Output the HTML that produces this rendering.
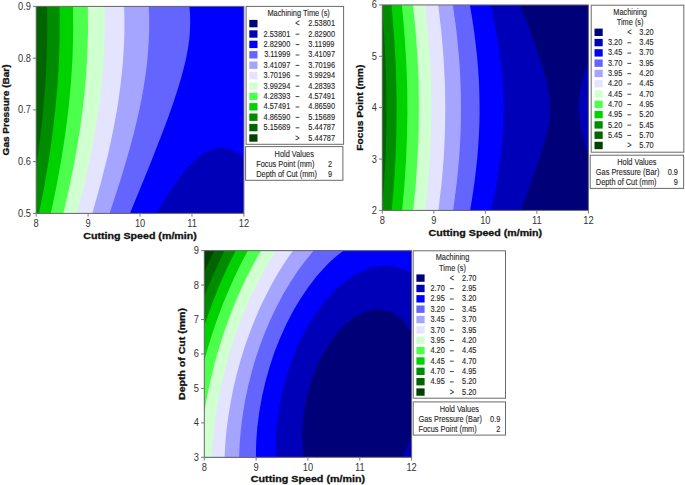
<!DOCTYPE html>
<html><head><meta charset="utf-8"><title>Contour Plots of Machining Time</title>
<style>html,body{margin:0;padding:0;background:#fff;} body{width:685px;height:485px;overflow:hidden;font-family:"Liberation Sans",sans-serif;} svg{display:block;}</style>
</head><body>
<svg width="685" height="485" viewBox="0 0 685 485" font-family="Liberation Sans, sans-serif">
<rect x="36.2" y="6.4" width="207.7" height="207" fill="#0000B9"/>
<path fill="#0000FF" fill-rule="evenodd" d="M36.2 6.4 243.9 6.4 243.9 157.4 238.6 153.5 233.6 150.7 228.6 148.7 223.9 147.8 219.2 147.7 214.2 148.6 209.2 150.4 204.2 153.1 199.2 156.7 193.9 161.4 188.2 167.3 182.6 174.1 176.6 182 170.2 191.2 163.6 201.5 156.3 213.4 36.2 213.4 36.2 6.4Z"/>
<path fill="#6464FF" fill-rule="evenodd" d="M36.2 6.4 189.4 6.4 190.1 14.7 190.2 23.1 189.9 31.4 189.2 40.1 187.9 48.7 186.2 58.1 183.8 68.1 181 78.4 177.6 89.7 173.4 102.4 168.4 116.7 162.8 131.7 148.7 167.7 129.9 213.4 36.2 213.4 36.2 6.4Z"/>
<path fill="#A5A5FF" fill-rule="evenodd" d="M36.2 6.4 148.8 6.4 149.2 17.4 149.2 28.7 148.9 39.7 148.1 51.1 147.1 62.4 145.7 73.7 143.9 85.4 141.8 97.7 139.3 110.1 136.3 123.1 133 136.4 129.1 150.7 125 165.1 120.3 180.4 109.5 213.4 36.2 213.4 36.2 6.4Z"/>
<path fill="#E4E4FF" fill-rule="evenodd" d="M36.2 6.4 124.1 6.4 124.4 18.1 124.4 29.7 124.1 41.4 123.5 53.4 122.6 65.4 121.4 77.4 119.9 89.7 118.2 102.1 116.1 114.7 113.7 127.7 111 140.7 108 154.4 100.8 183.1 92.3 213.4 36.2 213.4 36.2 6.4Z"/>
<path fill="#D0FFD0" fill-rule="evenodd" d="M36.2 6.4 104.5 6.4 104.8 18.4 104.8 30.4 104.5 42.4 104 54.7 103.2 66.7 102.2 79.1 100.9 91.4 99.4 104.1 95.5 129.7 90.5 156.4 84.4 184.1 77.1 213.4 36.2 213.4 36.2 6.4Z"/>
<path fill="#4CFF4C" fill-rule="evenodd" d="M36.2 6.4 87.8 6.4 88 30.7 87.3 55.4 85.8 80.1 83.2 105.1 79.8 130.7 75.3 157.4 69.8 185.1 63.4 213.4 36.2 213.4 36.2 6.4Z"/>
<path fill="#00D200" fill-rule="evenodd" d="M36.2 6.4 73 6.4 73.2 31.1 72.6 55.7 71.1 80.7 68.8 106.1 65.6 131.7 61.6 158.1 56.7 185.1 50.8 213.4 36.2 213.4 36.2 6.4Z"/>
<path fill="#008C00" fill-rule="evenodd" d="M36.2 6.4 59.5 6.4 59.7 14.7 59.6 38.4 58.9 62.4 57.4 86.4 55.2 110.7 52.3 135.4 48.7 160.7 44.2 186.7 39 213.4 36.2 213.4 36.2 6.4Z"/>
<path fill="#006400" fill-rule="evenodd" d="M36.2 6.4 47.1 6.4 47.3 26.1 47.1 43.1 46.6 60.4 45.7 77.7 44.5 95.1 43 112.7 41.1 130.4 38.8 148.4 36.2 166.3 36.2 6.4Z"/>
<rect x="382.3" y="4.95" width="206.1" height="205.45" fill="#000078"/>
<path fill="#0000B9" fill-rule="evenodd" d="M382.3 5 520.3 5 528.5 26.6 534.9 44.3 539.9 59 543.9 71.7 546.6 82 548.5 91.3 549.7 99.7 550 108 549.7 116 548.6 124.4 546.8 133.4 544 144 540.2 156.4 535.2 171 528.8 188.7 520.7 210.4 382.3 210.4 382.3 5ZM588.3 60.3 588.4 155.5 583.9 140.7 580.9 128.4 579.9 122.7 579.3 117.7 578.9 112.7 578.7 108 578.9 103 579.3 98 579.9 93 581 87.3 583.9 75 588.3 60.3Z"/>
<path fill="#0000FF" fill-rule="evenodd" d="M382.3 5 490.6 5 493.8 19.3 496.4 33 498.6 46 500.4 59 501.8 71.3 502.8 83.7 503.4 95.7 503.6 107.7 503.4 119.7 502.8 132 501.9 144.4 500.5 156.7 498.8 169.4 496.6 182.7 493.9 196.4 490.9 210.4 382.3 210.4 382.3 5Z"/>
<path fill="#6464FF" fill-rule="evenodd" d="M382.3 5 469.9 5 472.2 18.6 474.2 32 475.8 45 477.2 57.6 478.2 70.3 479 82.7 479.4 95.3 479.6 107.7 479.5 120 479 132.4 478.3 145 477.3 157.7 475.9 170.7 474.3 183.7 472.4 196.7 470.1 210.4 382.3 210.4 382.3 5Z"/>
<path fill="#A5A5FF" fill-rule="evenodd" d="M382.3 5 452.9 5 456.5 31.6 459 57.3 459.9 70 460.5 82.7 460.9 95.3 461 107.7 460.9 120 460.6 132.7 460 145.4 459.1 158 458 171 456.6 184.1 453.1 210.4 382.3 210.4 382.3 5Z"/>
<path fill="#E4E4FF" fill-rule="evenodd" d="M382.3 5 438.2 5 441.3 31.3 443.5 57 444.9 82.3 445.3 107.7 444.9 133 443.7 158.4 441.5 184.1 438.4 210.4 382.3 210.4 382.3 5Z"/>
<path fill="#D0FFD0" fill-rule="evenodd" d="M382.3 5 425.1 5 427.9 31.3 429.9 57 431.1 82.3 431.5 107.7 431.1 133 430 158.4 428 184.1 425.3 210.4 382.3 210.4 382.3 5Z"/>
<path fill="#4CFF4C" fill-rule="evenodd" d="M382.3 5 413 5 415.6 31 417.5 57 418.6 82.3 418.9 107.7 418.6 133 417.5 158.7 415.8 184.4 413.2 210.4 382.3 210.4 382.3 5Z"/>
<path fill="#00D200" fill-rule="evenodd" d="M382.3 5 401.9 5 402.7 13.3 404.8 38.3 406.3 63 407.2 87.3 407.4 111.7 407 136 406 160.7 404.4 185.4 402.1 210.4 382.3 210.4 382.3 5Z"/>
<path fill="#008C00" fill-rule="evenodd" d="M382.3 5 391.5 5 393.9 33.3 395.6 61.3 396.2 80 396.6 98.3 396.6 116.7 396.3 135.4 395.7 154 394.7 172.7 393.4 191.4 391.7 210.4 382.3 210.4 382.3 5Z"/>
<path fill="#006400" fill-rule="evenodd" d="M382.3 12.3 384.1 35.6 385.5 60.3 386.3 84.7 386.5 108.7 386.3 132.7 385.5 156.7 384.2 181.1 382.3 205.5 382.3 12.3Z"/>
<rect x="204.3" y="250.65" width="207.3" height="206.65" fill="#000078"/>
<path fill="#0000B9" fill-rule="evenodd" d="M204.3 250.7 411.6 250.7 411.6 333.1 408.6 327.8 405.3 323.2 401.6 319.1 397.6 315.7 393.2 313 388.6 311 383.9 309.8 378.9 309.3 373.9 309.6 368.5 310.7 363.5 312.4 358.2 315 352.8 318.3 347.8 322.2 342.8 326.7 337.8 332.1 333.2 337.9 328.5 344.5 324.4 351.1 320.5 358.5 316.9 366.2 313.6 374.2 310.8 382.2 308.2 390.9 306.1 399.5 304.5 408.2 303.3 416.9 302.6 425.3 302.3 433.6 302.5 441.9 303.2 449.6 304.3 457.3 204.3 457.3 204.3 250.7ZM411.5 435.6 411.6 457.3 402.2 457.3 407.3 446.7 411.5 435.6Z"/>
<path fill="#0000FF" fill-rule="evenodd" d="M204.3 250.7 411.6 250.7 411.6 273.7 406.3 270.6 400.6 268.2 394.6 266.6 388.6 265.8 382.2 265.9 375.9 266.7 369.5 268.3 362.9 270.9 356.5 274 349.8 278.1 343.5 282.8 337.2 288.3 331.2 294.3 325.1 301.1 319.4 308.4 313.8 316.5 309.1 324 304.8 331.7 300.6 339.8 296.8 348.1 293.2 356.8 290 365.5 287 374.5 284.4 383.6 282.1 392.9 280.2 402.2 278.6 411.6 277.4 420.9 276.5 430.3 276 439.3 275.9 448.3 276.2 457.3 204.3 457.3 204.3 250.7Z"/>
<path fill="#6464FF" fill-rule="evenodd" d="M204.3 250.7 343.4 250.7 338.8 254.2 334.3 258 329.8 262.1 325.5 266.5 316.8 276.1 308.6 286.7 300.8 298.2 293.4 310.5 286.5 323.8 280.3 337.4 274.7 351.6 269.7 366.5 265.5 381.5 262 396.5 259.3 411.9 257.3 427.3 256.2 442.3 255.9 457.3 204.3 457.3 204.3 250.7Z"/>
<path fill="#A5A5FF" fill-rule="evenodd" d="M204.3 250.7 313.7 250.6 305.8 260.2 298.2 270.3 290.8 281.4 284 292.7 277.4 304.9 271.4 317.4 265.7 330.4 260.5 344.1 255.8 357.8 251.7 371.9 248.1 386.2 245.1 400.5 242.7 414.9 240.9 429.3 239.7 443.3 239.1 457.3 204.3 457.3 204.3 250.7Z"/>
<path fill="#E4E4FF" fill-rule="evenodd" d="M204.3 250.7 292.9 250.7 285.7 261 278.7 272 272.1 283.6 265.9 295.4 260 307.6 254.5 320.4 249.4 333.5 244.7 346.8 240.5 360.5 236.7 374.2 233.4 388.2 230.7 401.9 228.4 415.9 226.6 429.6 225.3 443.6 224.5 457.3 204.3 457.3 204.3 250.7Z"/>
<path fill="#D0FFD0" fill-rule="evenodd" d="M204.3 250.7 275.8 250.7 269.1 261.6 262.7 272.8 256.5 284.7 250.7 296.8 245.2 309.4 240.1 322.1 235.4 335.1 231 348.4 227 361.8 223.5 375.5 220.4 389.2 217.7 402.9 215.5 416.6 213.7 430.3 212.3 443.9 211.5 457.3 204.3 457.3 204.3 250.7Z"/>
<path fill="#4CFF4C" fill-rule="evenodd" d="M204.3 250.7 261 250.7 256 259.4 251 268.7 246.3 278 241.7 287.7 237.4 297.4 233.3 307.2 229.4 317.4 225.7 327.6 222.1 338.1 218.9 348.5 215.8 359.1 213 369.8 210.5 380.5 208.2 391.2 206.1 401.9 204.3 412.6 204.3 250.7Z"/>
<path fill="#00D200" fill-rule="evenodd" d="M204.3 250.7 247.8 250.7 241 263.5 234.7 276.5 228.7 289.9 223 303.7 217.7 317.8 212.9 331.8 208.4 346.1 204.3 360.8 204.3 250.7Z"/>
<path fill="#008C00" fill-rule="evenodd" d="M204.3 250.7 235.7 250.7 227 268.3 218.7 287 211.2 306.1 204.3 325.5 204.3 250.7Z"/>
<path fill="#006400" fill-rule="evenodd" d="M204.3 250.7 224.5 250.7 219.1 262 213.9 273.4 209 285.1 204.3 297 204.3 250.7Z"/>
<path fill="#004000" fill-rule="evenodd" d="M204.3 250.7 214 250.7 209 261.6 204.3 272.3 204.3 250.7Z"/>
<rect x="36.2" y="6.4" width="207.7" height="207" fill="none" stroke="#6a6a6a" stroke-width="1"/>
<line x1="36.2" y1="213.4" x2="36.2" y2="216.7" stroke="#7a7a7a" stroke-width="1"/>
<text transform="translate(36.2 226.6) scale(0.93 1)" font-size="10" text-anchor="middle" fill="#333" >8</text>
<line x1="88.12" y1="213.4" x2="88.12" y2="216.7" stroke="#7a7a7a" stroke-width="1"/>
<text transform="translate(88.12 226.6) scale(0.93 1)" font-size="10" text-anchor="middle" fill="#333" >9</text>
<line x1="140.05" y1="213.4" x2="140.05" y2="216.7" stroke="#7a7a7a" stroke-width="1"/>
<text transform="translate(140.05 226.6) scale(0.93 1)" font-size="10" text-anchor="middle" fill="#333" >10</text>
<line x1="191.97" y1="213.4" x2="191.97" y2="216.7" stroke="#7a7a7a" stroke-width="1"/>
<text transform="translate(191.97 226.6) scale(0.93 1)" font-size="10" text-anchor="middle" fill="#333" >11</text>
<line x1="243.9" y1="213.4" x2="243.9" y2="216.7" stroke="#7a7a7a" stroke-width="1"/>
<text transform="translate(243.9 226.6) scale(0.93 1)" font-size="10" text-anchor="middle" fill="#333" >12</text>
<line x1="32.9" y1="213.4" x2="36.2" y2="213.4" stroke="#7a7a7a" stroke-width="1"/>
<text transform="translate(30.9 216.9) scale(0.93 1)" font-size="10" text-anchor="end" fill="#333" >0.5</text>
<line x1="32.9" y1="161.65" x2="36.2" y2="161.65" stroke="#7a7a7a" stroke-width="1"/>
<text transform="translate(30.9 165.15) scale(0.93 1)" font-size="10" text-anchor="end" fill="#333" >0.6</text>
<line x1="32.9" y1="109.9" x2="36.2" y2="109.9" stroke="#7a7a7a" stroke-width="1"/>
<text transform="translate(30.9 113.4) scale(0.93 1)" font-size="10" text-anchor="end" fill="#333" >0.7</text>
<line x1="32.9" y1="58.15" x2="36.2" y2="58.15" stroke="#7a7a7a" stroke-width="1"/>
<text transform="translate(30.9 61.65) scale(0.93 1)" font-size="10" text-anchor="end" fill="#333" >0.8</text>
<line x1="32.9" y1="6.4" x2="36.2" y2="6.4" stroke="#7a7a7a" stroke-width="1"/>
<text transform="translate(30.9 9.9) scale(0.93 1)" font-size="10" text-anchor="end" fill="#333" >0.9</text>
<text x="140.05" y="238.7" font-size="9.5" text-anchor="middle" font-weight="bold" fill="#111" textLength="113.5" lengthAdjust="spacingAndGlyphs" stroke="#111" stroke-width="0.3">Cutting Speed (m/min)</text>
<text transform="translate(8.6 109.9) rotate(-90)" x="0" y="0" font-size="9.5" text-anchor="middle" font-weight="bold" fill="#111" stroke="#111" stroke-width="0.3" textLength="91" lengthAdjust="spacingAndGlyphs">Gas Pressure (Bar)</text>
<rect x="382.3" y="4.95" width="206.1" height="205.45" fill="none" stroke="#6a6a6a" stroke-width="1"/>
<line x1="382.3" y1="210.4" x2="382.3" y2="213.7" stroke="#7a7a7a" stroke-width="1"/>
<text transform="translate(382.3 223.6) scale(0.93 1)" font-size="10" text-anchor="middle" fill="#333" >8</text>
<line x1="433.82" y1="210.4" x2="433.82" y2="213.7" stroke="#7a7a7a" stroke-width="1"/>
<text transform="translate(433.82 223.6) scale(0.93 1)" font-size="10" text-anchor="middle" fill="#333" >9</text>
<line x1="485.35" y1="210.4" x2="485.35" y2="213.7" stroke="#7a7a7a" stroke-width="1"/>
<text transform="translate(485.35 223.6) scale(0.93 1)" font-size="10" text-anchor="middle" fill="#333" >10</text>
<line x1="536.88" y1="210.4" x2="536.88" y2="213.7" stroke="#7a7a7a" stroke-width="1"/>
<text transform="translate(536.88 223.6) scale(0.93 1)" font-size="10" text-anchor="middle" fill="#333" >11</text>
<line x1="588.4" y1="210.4" x2="588.4" y2="213.7" stroke="#7a7a7a" stroke-width="1"/>
<text transform="translate(588.4 223.6) scale(0.93 1)" font-size="10" text-anchor="middle" fill="#333" >12</text>
<line x1="379" y1="210.4" x2="382.3" y2="210.4" stroke="#7a7a7a" stroke-width="1"/>
<text transform="translate(377 213.9) scale(0.93 1)" font-size="10" text-anchor="end" fill="#333" >2</text>
<line x1="379" y1="159.04" x2="382.3" y2="159.04" stroke="#7a7a7a" stroke-width="1"/>
<text transform="translate(377 162.54) scale(0.93 1)" font-size="10" text-anchor="end" fill="#333" >3</text>
<line x1="379" y1="107.67" x2="382.3" y2="107.67" stroke="#7a7a7a" stroke-width="1"/>
<text transform="translate(377 111.17) scale(0.93 1)" font-size="10" text-anchor="end" fill="#333" >4</text>
<line x1="379" y1="56.31" x2="382.3" y2="56.31" stroke="#7a7a7a" stroke-width="1"/>
<text transform="translate(377 59.81) scale(0.93 1)" font-size="10" text-anchor="end" fill="#333" >5</text>
<line x1="379" y1="4.95" x2="382.3" y2="4.95" stroke="#7a7a7a" stroke-width="1"/>
<text transform="translate(377 8.45) scale(0.93 1)" font-size="10" text-anchor="end" fill="#333" >6</text>
<text x="485.35" y="236.3" font-size="9.5" text-anchor="middle" font-weight="bold" fill="#111" textLength="113.5" lengthAdjust="spacingAndGlyphs" stroke="#111" stroke-width="0.3">Cutting Speed (m/min)</text>
<text transform="translate(363.2 107.67) rotate(-90)" x="0" y="0" font-size="9.5" text-anchor="middle" font-weight="bold" fill="#111" stroke="#111" stroke-width="0.3" textLength="86" lengthAdjust="spacingAndGlyphs">Focus Point (mm)</text>
<rect x="204.3" y="250.65" width="207.3" height="206.65" fill="none" stroke="#6a6a6a" stroke-width="1"/>
<line x1="204.3" y1="457.3" x2="204.3" y2="460.6" stroke="#7a7a7a" stroke-width="1"/>
<text transform="translate(204.3 470.5) scale(0.93 1)" font-size="10" text-anchor="middle" fill="#333" >8</text>
<line x1="256.12" y1="457.3" x2="256.12" y2="460.6" stroke="#7a7a7a" stroke-width="1"/>
<text transform="translate(256.12 470.5) scale(0.93 1)" font-size="10" text-anchor="middle" fill="#333" >9</text>
<line x1="307.95" y1="457.3" x2="307.95" y2="460.6" stroke="#7a7a7a" stroke-width="1"/>
<text transform="translate(307.95 470.5) scale(0.93 1)" font-size="10" text-anchor="middle" fill="#333" >10</text>
<line x1="359.78" y1="457.3" x2="359.78" y2="460.6" stroke="#7a7a7a" stroke-width="1"/>
<text transform="translate(359.78 470.5) scale(0.93 1)" font-size="10" text-anchor="middle" fill="#333" >11</text>
<line x1="411.6" y1="457.3" x2="411.6" y2="460.6" stroke="#7a7a7a" stroke-width="1"/>
<text transform="translate(411.6 470.5) scale(0.93 1)" font-size="10" text-anchor="middle" fill="#333" >12</text>
<line x1="201" y1="457.3" x2="204.3" y2="457.3" stroke="#7a7a7a" stroke-width="1"/>
<text transform="translate(199 460.8) scale(0.93 1)" font-size="10" text-anchor="end" fill="#333" >3</text>
<line x1="201" y1="422.86" x2="204.3" y2="422.86" stroke="#7a7a7a" stroke-width="1"/>
<text transform="translate(199 426.36) scale(0.93 1)" font-size="10" text-anchor="end" fill="#333" >4</text>
<line x1="201" y1="388.42" x2="204.3" y2="388.42" stroke="#7a7a7a" stroke-width="1"/>
<text transform="translate(199 391.92) scale(0.93 1)" font-size="10" text-anchor="end" fill="#333" >5</text>
<line x1="201" y1="353.98" x2="204.3" y2="353.98" stroke="#7a7a7a" stroke-width="1"/>
<text transform="translate(199 357.48) scale(0.93 1)" font-size="10" text-anchor="end" fill="#333" >6</text>
<line x1="201" y1="319.53" x2="204.3" y2="319.53" stroke="#7a7a7a" stroke-width="1"/>
<text transform="translate(199 323.03) scale(0.93 1)" font-size="10" text-anchor="end" fill="#333" >7</text>
<line x1="201" y1="285.09" x2="204.3" y2="285.09" stroke="#7a7a7a" stroke-width="1"/>
<text transform="translate(199 288.59) scale(0.93 1)" font-size="10" text-anchor="end" fill="#333" >8</text>
<line x1="201" y1="250.65" x2="204.3" y2="250.65" stroke="#7a7a7a" stroke-width="1"/>
<text transform="translate(199 254.15) scale(0.93 1)" font-size="10" text-anchor="end" fill="#333" >9</text>
<text x="307.95" y="481.8" font-size="9.5" text-anchor="middle" font-weight="bold" fill="#111" textLength="114.2" lengthAdjust="spacingAndGlyphs" stroke="#111" stroke-width="0.3">Cutting Speed (m/min)</text>
<text transform="translate(185.4 353.98) rotate(-90)" x="0" y="0" font-size="9.5" text-anchor="middle" font-weight="bold" fill="#111" stroke="#111" stroke-width="0.3" textLength="92" lengthAdjust="spacingAndGlyphs">Depth of Cut (mm)</text>
<rect x="246.1" y="6.4" width="97.5" height="137.9" fill="#fff" stroke="#6a6a6a" stroke-width="1"/>
<text transform="translate(298.6 15.5) scale(1 1.18)" font-size="7.4" text-anchor="middle" fill="#262626" stroke="#262626" stroke-width="0.1">Machining Time (s)</text>
<rect x="249.3" y="19.9" width="8.2" height="7.4" fill="#000078"/>
<text transform="translate(297.5 26.2) scale(1 1.18)" font-size="7.4" text-anchor="middle" fill="#262626" stroke="#262626" stroke-width="0.1">&lt;</text>
<text transform="translate(308.3 26.2) scale(1 1.18)" font-size="7.4" text-anchor="start" fill="#262626" stroke="#262626" stroke-width="0.1">2.53801</text>
<rect x="249.3" y="30.3" width="8.2" height="7.4" fill="#0000B9"/>
<text transform="translate(290.3 36.6) scale(1 1.18)" font-size="7.4" text-anchor="end" fill="#262626" stroke="#262626" stroke-width="0.1">2.53801</text>
<rect x="295.6" y="33.7" width="3.8" height="1" fill="#444"/>
<text transform="translate(308.3 36.6) scale(1 1.18)" font-size="7.4" text-anchor="start" fill="#262626" stroke="#262626" stroke-width="0.1">2.82900</text>
<rect x="249.3" y="40.7" width="8.2" height="7.4" fill="#0000FF"/>
<text transform="translate(290.3 47) scale(1 1.18)" font-size="7.4" text-anchor="end" fill="#262626" stroke="#262626" stroke-width="0.1">2.82900</text>
<rect x="295.6" y="44.1" width="3.8" height="1" fill="#444"/>
<text transform="translate(308.3 47) scale(1 1.18)" font-size="7.4" text-anchor="start" fill="#262626" stroke="#262626" stroke-width="0.1">3.11999</text>
<rect x="249.3" y="51.1" width="8.2" height="7.4" fill="#6464FF"/>
<text transform="translate(290.3 57.4) scale(1 1.18)" font-size="7.4" text-anchor="end" fill="#262626" stroke="#262626" stroke-width="0.1">3.11999</text>
<rect x="295.6" y="54.5" width="3.8" height="1" fill="#444"/>
<text transform="translate(308.3 57.4) scale(1 1.18)" font-size="7.4" text-anchor="start" fill="#262626" stroke="#262626" stroke-width="0.1">3.41097</text>
<rect x="249.3" y="61.5" width="8.2" height="7.4" fill="#A5A5FF"/>
<text transform="translate(290.3 67.8) scale(1 1.18)" font-size="7.4" text-anchor="end" fill="#262626" stroke="#262626" stroke-width="0.1">3.41097</text>
<rect x="295.6" y="64.9" width="3.8" height="1" fill="#444"/>
<text transform="translate(308.3 67.8) scale(1 1.18)" font-size="7.4" text-anchor="start" fill="#262626" stroke="#262626" stroke-width="0.1">3.70196</text>
<rect x="249.3" y="71.9" width="8.2" height="7.4" fill="#E4E4FF"/>
<text transform="translate(290.3 78.2) scale(1 1.18)" font-size="7.4" text-anchor="end" fill="#262626" stroke="#262626" stroke-width="0.1">3.70196</text>
<rect x="295.6" y="75.3" width="3.8" height="1" fill="#444"/>
<text transform="translate(308.3 78.2) scale(1 1.18)" font-size="7.4" text-anchor="start" fill="#262626" stroke="#262626" stroke-width="0.1">3.99294</text>
<rect x="249.3" y="82.3" width="8.2" height="7.4" fill="#D0FFD0"/>
<text transform="translate(290.3 88.6) scale(1 1.18)" font-size="7.4" text-anchor="end" fill="#262626" stroke="#262626" stroke-width="0.1">3.99294</text>
<rect x="295.6" y="85.7" width="3.8" height="1" fill="#444"/>
<text transform="translate(308.3 88.6) scale(1 1.18)" font-size="7.4" text-anchor="start" fill="#262626" stroke="#262626" stroke-width="0.1">4.28393</text>
<rect x="249.3" y="92.7" width="8.2" height="7.4" fill="#4CFF4C"/>
<text transform="translate(290.3 99) scale(1 1.18)" font-size="7.4" text-anchor="end" fill="#262626" stroke="#262626" stroke-width="0.1">4.28393</text>
<rect x="295.6" y="96.1" width="3.8" height="1" fill="#444"/>
<text transform="translate(308.3 99) scale(1 1.18)" font-size="7.4" text-anchor="start" fill="#262626" stroke="#262626" stroke-width="0.1">4.57491</text>
<rect x="249.3" y="103.1" width="8.2" height="7.4" fill="#00D200"/>
<text transform="translate(290.3 109.4) scale(1 1.18)" font-size="7.4" text-anchor="end" fill="#262626" stroke="#262626" stroke-width="0.1">4.57491</text>
<rect x="295.6" y="106.5" width="3.8" height="1" fill="#444"/>
<text transform="translate(308.3 109.4) scale(1 1.18)" font-size="7.4" text-anchor="start" fill="#262626" stroke="#262626" stroke-width="0.1">4.86590</text>
<rect x="249.3" y="113.5" width="8.2" height="7.4" fill="#008C00"/>
<text transform="translate(290.3 119.8) scale(1 1.18)" font-size="7.4" text-anchor="end" fill="#262626" stroke="#262626" stroke-width="0.1">4.86590</text>
<rect x="295.6" y="116.9" width="3.8" height="1" fill="#444"/>
<text transform="translate(308.3 119.8) scale(1 1.18)" font-size="7.4" text-anchor="start" fill="#262626" stroke="#262626" stroke-width="0.1">5.15689</text>
<rect x="249.3" y="123.9" width="8.2" height="7.4" fill="#006400"/>
<text transform="translate(290.3 130.2) scale(1 1.18)" font-size="7.4" text-anchor="end" fill="#262626" stroke="#262626" stroke-width="0.1">5.15689</text>
<rect x="295.6" y="127.3" width="3.8" height="1" fill="#444"/>
<text transform="translate(308.3 130.2) scale(1 1.18)" font-size="7.4" text-anchor="start" fill="#262626" stroke="#262626" stroke-width="0.1">5.44787</text>
<rect x="249.3" y="134.3" width="8.2" height="7.4" fill="#004000"/>
<text transform="translate(297.5 140.6) scale(1 1.18)" font-size="7.4" text-anchor="middle" fill="#262626" stroke="#262626" stroke-width="0.1">&gt;</text>
<text transform="translate(308.3 140.6) scale(1 1.18)" font-size="7.4" text-anchor="start" fill="#262626" stroke="#262626" stroke-width="0.1">5.44787</text>
<rect x="245.6" y="146.6" width="97.3" height="33.7" fill="#fff" stroke="#6a6a6a" stroke-width="1"/>
<text transform="translate(294.25 156.6) scale(1 1.18)" font-size="7.4" text-anchor="middle" fill="#262626" stroke="#262626" stroke-width="0.1">Hold Values</text>
<text transform="translate(256.2 166.8) scale(1 1.18)" font-size="7.4" text-anchor="start" fill="#262626" stroke="#262626" stroke-width="0.1">Focus Point (mm)</text>
<text transform="translate(332.2 166.8) scale(1 1.18)" font-size="7.4" text-anchor="end" fill="#262626" stroke="#262626" stroke-width="0.1">2</text>
<text transform="translate(256.2 177.1) scale(1 1.18)" font-size="7.4" text-anchor="start" fill="#262626" stroke="#262626" stroke-width="0.1">Depth of Cut (mm)</text>
<text transform="translate(332.2 177.1) scale(1 1.18)" font-size="7.4" text-anchor="end" fill="#262626" stroke="#262626" stroke-width="0.1">9</text>
<rect x="591.2" y="5.2" width="92.6" height="147" fill="#fff" stroke="#6a6a6a" stroke-width="1"/>
<text transform="translate(630.1 14.5) scale(1 1.18)" font-size="7.4" text-anchor="middle" fill="#262626" stroke="#262626" stroke-width="0.1">Machining</text>
<text transform="translate(630.1 24.5) scale(1 1.18)" font-size="7.4" text-anchor="middle" fill="#262626" stroke="#262626" stroke-width="0.1">Time (s)</text>
<rect x="594.5" y="28.6" width="8.2" height="7.4" fill="#000078"/>
<text transform="translate(629.3 34.9) scale(1 1.18)" font-size="7.4" text-anchor="middle" fill="#262626" stroke="#262626" stroke-width="0.1">&lt;</text>
<text transform="translate(639.3 34.9) scale(1 1.18)" font-size="7.4" text-anchor="start" fill="#262626" stroke="#262626" stroke-width="0.1">3.20</text>
<rect x="594.5" y="38.89" width="8.2" height="7.4" fill="#0000B9"/>
<text transform="translate(622.3 45.19) scale(1 1.18)" font-size="7.4" text-anchor="end" fill="#262626" stroke="#262626" stroke-width="0.1">3.20</text>
<rect x="627.4" y="42.29" width="3.8" height="1" fill="#444"/>
<text transform="translate(639.3 45.19) scale(1 1.18)" font-size="7.4" text-anchor="start" fill="#262626" stroke="#262626" stroke-width="0.1">3.45</text>
<rect x="594.5" y="49.18" width="8.2" height="7.4" fill="#0000FF"/>
<text transform="translate(622.3 55.48) scale(1 1.18)" font-size="7.4" text-anchor="end" fill="#262626" stroke="#262626" stroke-width="0.1">3.45</text>
<rect x="627.4" y="52.58" width="3.8" height="1" fill="#444"/>
<text transform="translate(639.3 55.48) scale(1 1.18)" font-size="7.4" text-anchor="start" fill="#262626" stroke="#262626" stroke-width="0.1">3.70</text>
<rect x="594.5" y="59.47" width="8.2" height="7.4" fill="#6464FF"/>
<text transform="translate(622.3 65.77) scale(1 1.18)" font-size="7.4" text-anchor="end" fill="#262626" stroke="#262626" stroke-width="0.1">3.70</text>
<rect x="627.4" y="62.87" width="3.8" height="1" fill="#444"/>
<text transform="translate(639.3 65.77) scale(1 1.18)" font-size="7.4" text-anchor="start" fill="#262626" stroke="#262626" stroke-width="0.1">3.95</text>
<rect x="594.5" y="69.76" width="8.2" height="7.4" fill="#A5A5FF"/>
<text transform="translate(622.3 76.06) scale(1 1.18)" font-size="7.4" text-anchor="end" fill="#262626" stroke="#262626" stroke-width="0.1">3.95</text>
<rect x="627.4" y="73.16" width="3.8" height="1" fill="#444"/>
<text transform="translate(639.3 76.06) scale(1 1.18)" font-size="7.4" text-anchor="start" fill="#262626" stroke="#262626" stroke-width="0.1">4.20</text>
<rect x="594.5" y="80.05" width="8.2" height="7.4" fill="#E4E4FF"/>
<text transform="translate(622.3 86.35) scale(1 1.18)" font-size="7.4" text-anchor="end" fill="#262626" stroke="#262626" stroke-width="0.1">4.20</text>
<rect x="627.4" y="83.45" width="3.8" height="1" fill="#444"/>
<text transform="translate(639.3 86.35) scale(1 1.18)" font-size="7.4" text-anchor="start" fill="#262626" stroke="#262626" stroke-width="0.1">4.45</text>
<rect x="594.5" y="90.34" width="8.2" height="7.4" fill="#D0FFD0"/>
<text transform="translate(622.3 96.64) scale(1 1.18)" font-size="7.4" text-anchor="end" fill="#262626" stroke="#262626" stroke-width="0.1">4.45</text>
<rect x="627.4" y="93.74" width="3.8" height="1" fill="#444"/>
<text transform="translate(639.3 96.64) scale(1 1.18)" font-size="7.4" text-anchor="start" fill="#262626" stroke="#262626" stroke-width="0.1">4.70</text>
<rect x="594.5" y="100.63" width="8.2" height="7.4" fill="#4CFF4C"/>
<text transform="translate(622.3 106.93) scale(1 1.18)" font-size="7.4" text-anchor="end" fill="#262626" stroke="#262626" stroke-width="0.1">4.70</text>
<rect x="627.4" y="104.03" width="3.8" height="1" fill="#444"/>
<text transform="translate(639.3 106.93) scale(1 1.18)" font-size="7.4" text-anchor="start" fill="#262626" stroke="#262626" stroke-width="0.1">4.95</text>
<rect x="594.5" y="110.92" width="8.2" height="7.4" fill="#00D200"/>
<text transform="translate(622.3 117.22) scale(1 1.18)" font-size="7.4" text-anchor="end" fill="#262626" stroke="#262626" stroke-width="0.1">4.95</text>
<rect x="627.4" y="114.32" width="3.8" height="1" fill="#444"/>
<text transform="translate(639.3 117.22) scale(1 1.18)" font-size="7.4" text-anchor="start" fill="#262626" stroke="#262626" stroke-width="0.1">5.20</text>
<rect x="594.5" y="121.21" width="8.2" height="7.4" fill="#008C00"/>
<text transform="translate(622.3 127.51) scale(1 1.18)" font-size="7.4" text-anchor="end" fill="#262626" stroke="#262626" stroke-width="0.1">5.20</text>
<rect x="627.4" y="124.61" width="3.8" height="1" fill="#444"/>
<text transform="translate(639.3 127.51) scale(1 1.18)" font-size="7.4" text-anchor="start" fill="#262626" stroke="#262626" stroke-width="0.1">5.45</text>
<rect x="594.5" y="131.5" width="8.2" height="7.4" fill="#006400"/>
<text transform="translate(622.3 137.8) scale(1 1.18)" font-size="7.4" text-anchor="end" fill="#262626" stroke="#262626" stroke-width="0.1">5.45</text>
<rect x="627.4" y="134.9" width="3.8" height="1" fill="#444"/>
<text transform="translate(639.3 137.8) scale(1 1.18)" font-size="7.4" text-anchor="start" fill="#262626" stroke="#262626" stroke-width="0.1">5.70</text>
<rect x="594.5" y="141.79" width="8.2" height="7.4" fill="#004000"/>
<text transform="translate(629.3 148.09) scale(1 1.18)" font-size="7.4" text-anchor="middle" fill="#262626" stroke="#262626" stroke-width="0.1">&gt;</text>
<text transform="translate(639.3 148.09) scale(1 1.18)" font-size="7.4" text-anchor="start" fill="#262626" stroke="#262626" stroke-width="0.1">5.70</text>
<rect x="590.2" y="155.2" width="93.4" height="33.2" fill="#fff" stroke="#6a6a6a" stroke-width="1"/>
<text transform="translate(636.9 164.7) scale(1 1.18)" font-size="7.4" text-anchor="middle" fill="#262626" stroke="#262626" stroke-width="0.1">Hold Values</text>
<text transform="translate(595.8 174.9) scale(1 1.18)" font-size="7.4" text-anchor="start" fill="#262626" stroke="#262626" stroke-width="0.1">Gas Pressure (Bar)</text>
<text transform="translate(677.9 174.9) scale(1 1.18)" font-size="7.4" text-anchor="end" fill="#262626" stroke="#262626" stroke-width="0.1">0.9</text>
<text transform="translate(595.8 185.2) scale(1 1.18)" font-size="7.4" text-anchor="start" fill="#262626" stroke="#262626" stroke-width="0.1">Depth of Cut (mm)</text>
<text transform="translate(677.9 185.2) scale(1 1.18)" font-size="7.4" text-anchor="end" fill="#262626" stroke="#262626" stroke-width="0.1">9</text>
<rect x="413.2" y="250.8" width="92.3" height="147.4" fill="#fff" stroke="#6a6a6a" stroke-width="1"/>
<text transform="translate(452.5 260.2) scale(1 1.18)" font-size="7.4" text-anchor="middle" fill="#262626" stroke="#262626" stroke-width="0.1">Machining</text>
<text transform="translate(452.5 270.5) scale(1 1.18)" font-size="7.4" text-anchor="middle" fill="#262626" stroke="#262626" stroke-width="0.1">Time (s)</text>
<rect x="416.4" y="274.4" width="8.2" height="7.4" fill="#000078"/>
<text transform="translate(451.8 280.7) scale(1 1.18)" font-size="7.4" text-anchor="middle" fill="#262626" stroke="#262626" stroke-width="0.1">&lt;</text>
<text transform="translate(462.1 280.7) scale(1 1.18)" font-size="7.4" text-anchor="start" fill="#262626" stroke="#262626" stroke-width="0.1">2.70</text>
<rect x="416.4" y="284.76" width="8.2" height="7.4" fill="#0000B9"/>
<text transform="translate(444.8 291.06) scale(1 1.18)" font-size="7.4" text-anchor="end" fill="#262626" stroke="#262626" stroke-width="0.1">2.70</text>
<rect x="449.9" y="288.16" width="3.8" height="1" fill="#444"/>
<text transform="translate(462.1 291.06) scale(1 1.18)" font-size="7.4" text-anchor="start" fill="#262626" stroke="#262626" stroke-width="0.1">2.95</text>
<rect x="416.4" y="295.12" width="8.2" height="7.4" fill="#0000FF"/>
<text transform="translate(444.8 301.42) scale(1 1.18)" font-size="7.4" text-anchor="end" fill="#262626" stroke="#262626" stroke-width="0.1">2.95</text>
<rect x="449.9" y="298.52" width="3.8" height="1" fill="#444"/>
<text transform="translate(462.1 301.42) scale(1 1.18)" font-size="7.4" text-anchor="start" fill="#262626" stroke="#262626" stroke-width="0.1">3.20</text>
<rect x="416.4" y="305.48" width="8.2" height="7.4" fill="#6464FF"/>
<text transform="translate(444.8 311.78) scale(1 1.18)" font-size="7.4" text-anchor="end" fill="#262626" stroke="#262626" stroke-width="0.1">3.20</text>
<rect x="449.9" y="308.88" width="3.8" height="1" fill="#444"/>
<text transform="translate(462.1 311.78) scale(1 1.18)" font-size="7.4" text-anchor="start" fill="#262626" stroke="#262626" stroke-width="0.1">3.45</text>
<rect x="416.4" y="315.84" width="8.2" height="7.4" fill="#A5A5FF"/>
<text transform="translate(444.8 322.14) scale(1 1.18)" font-size="7.4" text-anchor="end" fill="#262626" stroke="#262626" stroke-width="0.1">3.45</text>
<rect x="449.9" y="319.24" width="3.8" height="1" fill="#444"/>
<text transform="translate(462.1 322.14) scale(1 1.18)" font-size="7.4" text-anchor="start" fill="#262626" stroke="#262626" stroke-width="0.1">3.70</text>
<rect x="416.4" y="326.2" width="8.2" height="7.4" fill="#E4E4FF"/>
<text transform="translate(444.8 332.5) scale(1 1.18)" font-size="7.4" text-anchor="end" fill="#262626" stroke="#262626" stroke-width="0.1">3.70</text>
<rect x="449.9" y="329.6" width="3.8" height="1" fill="#444"/>
<text transform="translate(462.1 332.5) scale(1 1.18)" font-size="7.4" text-anchor="start" fill="#262626" stroke="#262626" stroke-width="0.1">3.95</text>
<rect x="416.4" y="336.56" width="8.2" height="7.4" fill="#D0FFD0"/>
<text transform="translate(444.8 342.86) scale(1 1.18)" font-size="7.4" text-anchor="end" fill="#262626" stroke="#262626" stroke-width="0.1">3.95</text>
<rect x="449.9" y="339.96" width="3.8" height="1" fill="#444"/>
<text transform="translate(462.1 342.86) scale(1 1.18)" font-size="7.4" text-anchor="start" fill="#262626" stroke="#262626" stroke-width="0.1">4.20</text>
<rect x="416.4" y="346.92" width="8.2" height="7.4" fill="#4CFF4C"/>
<text transform="translate(444.8 353.22) scale(1 1.18)" font-size="7.4" text-anchor="end" fill="#262626" stroke="#262626" stroke-width="0.1">4.20</text>
<rect x="449.9" y="350.32" width="3.8" height="1" fill="#444"/>
<text transform="translate(462.1 353.22) scale(1 1.18)" font-size="7.4" text-anchor="start" fill="#262626" stroke="#262626" stroke-width="0.1">4.45</text>
<rect x="416.4" y="357.28" width="8.2" height="7.4" fill="#00D200"/>
<text transform="translate(444.8 363.58) scale(1 1.18)" font-size="7.4" text-anchor="end" fill="#262626" stroke="#262626" stroke-width="0.1">4.45</text>
<rect x="449.9" y="360.68" width="3.8" height="1" fill="#444"/>
<text transform="translate(462.1 363.58) scale(1 1.18)" font-size="7.4" text-anchor="start" fill="#262626" stroke="#262626" stroke-width="0.1">4.70</text>
<rect x="416.4" y="367.64" width="8.2" height="7.4" fill="#008C00"/>
<text transform="translate(444.8 373.94) scale(1 1.18)" font-size="7.4" text-anchor="end" fill="#262626" stroke="#262626" stroke-width="0.1">4.70</text>
<rect x="449.9" y="371.04" width="3.8" height="1" fill="#444"/>
<text transform="translate(462.1 373.94) scale(1 1.18)" font-size="7.4" text-anchor="start" fill="#262626" stroke="#262626" stroke-width="0.1">4.95</text>
<rect x="416.4" y="378" width="8.2" height="7.4" fill="#006400"/>
<text transform="translate(444.8 384.3) scale(1 1.18)" font-size="7.4" text-anchor="end" fill="#262626" stroke="#262626" stroke-width="0.1">4.95</text>
<rect x="449.9" y="381.4" width="3.8" height="1" fill="#444"/>
<text transform="translate(462.1 384.3) scale(1 1.18)" font-size="7.4" text-anchor="start" fill="#262626" stroke="#262626" stroke-width="0.1">5.20</text>
<rect x="416.4" y="388.36" width="8.2" height="7.4" fill="#004000"/>
<text transform="translate(451.8 394.66) scale(1 1.18)" font-size="7.4" text-anchor="middle" fill="#262626" stroke="#262626" stroke-width="0.1">&gt;</text>
<text transform="translate(462.1 394.66) scale(1 1.18)" font-size="7.4" text-anchor="start" fill="#262626" stroke="#262626" stroke-width="0.1">5.20</text>
<rect x="413.2" y="401.9" width="92.3" height="33.2" fill="#fff" stroke="#6a6a6a" stroke-width="1"/>
<text transform="translate(459.35 411.7) scale(1 1.18)" font-size="7.4" text-anchor="middle" fill="#262626" stroke="#262626" stroke-width="0.1">Hold Values</text>
<text transform="translate(418.4 421.9) scale(1 1.18)" font-size="7.4" text-anchor="start" fill="#262626" stroke="#262626" stroke-width="0.1">Gas Pressure (Bar)</text>
<text transform="translate(500.3 421.9) scale(1 1.18)" font-size="7.4" text-anchor="end" fill="#262626" stroke="#262626" stroke-width="0.1">0.9</text>
<text transform="translate(418.4 432.2) scale(1 1.18)" font-size="7.4" text-anchor="start" fill="#262626" stroke="#262626" stroke-width="0.1">Focus Point (mm)</text>
<text transform="translate(500.3 432.2) scale(1 1.18)" font-size="7.4" text-anchor="end" fill="#262626" stroke="#262626" stroke-width="0.1">2</text>
</svg>
</body></html>
